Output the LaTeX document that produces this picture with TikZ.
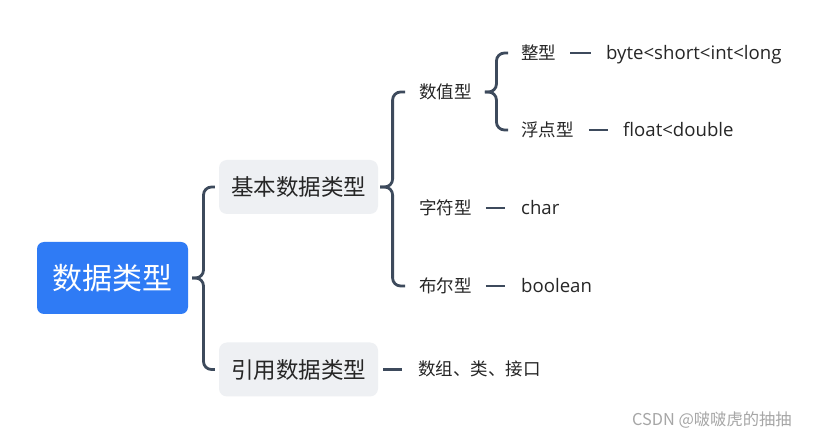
\documentclass[tikz,border=0pt]{standalone}
\usepackage{fontspec}
\setmainfont{Noto Sans CJK SC}
\newfontfamily\latinf{Open Sans}
\usetikzlibrary{calc}
\definecolor{rootblue}{HTML}{2F7BF5}
\definecolor{boxgray}{HTML}{EEF0F3}
\definecolor{linec}{HTML}{3D4A5C}
\definecolor{txt}{HTML}{262626}
\definecolor{wm}{HTML}{A6A6A6}
\tikzset{
 lbl/.style={anchor=west, inner sep=0pt, text=txt, font=\fontsize{17.5}{20}\selectfont, text height=16pt, text depth=3pt},
 vlbl/.style={lbl, font=\latinf\fontsize{18.6}{22}\selectfont, text height=17pt, text depth=3pt},
 rootbox/.style={fill=rootblue, rounded corners=7pt, minimum width=151pt, minimum height=72pt, inner sep=0pt, text=white, font=\fontsize{30}{36}\selectfont},
 midbox/.style={fill=boxgray, rounded corners=8pt, minimum width=159pt, minimum height=54pt, inner sep=0pt, text=txt, font=\fontsize{22.5}{27}\selectfont},
 conn/.style={draw=linec, line width=2.8pt},
 bracel/.style={conn, rounded corners=8pt},
}
\newcommand\mybrace[3]{%
 \draw[bracel] let \p1=#1, \p2=#2, \p4=($#1!0.5!#2$) in (\x2,\y2) -- (\x4,\y2) -- (\x4,\y1) -- (\x1,\y1);
 \draw[bracel] let \p1=#1, \p3=#3, \p4=($#1!0.5!#3$) in (\x1,\y1) -- (\x4,\y1) -- (\x4,\y3) -- (\x3,\y3);
}
\begin{document}
\begin{tikzpicture}[x=1pt,y=-1pt]
\fill[white] (0,0) rectangle (839,438);
\useasboundingbox (0,0) rectangle (839,438);
\node[rootbox] (root) at (112.5,278) {数据类型};
\node[midbox] (basic) at (298.5,187) {基本数据类型};
\node[midbox] (ref) at (298.5,369.5) {引用数据类型};
\node[lbl] (num) at (419,92) {数值型};
\node[lbl] (chr) at (419,208) {字符型};
\node[lbl] (bool) at (419,286) {布尔型};
\node[lbl] (int) at (521,53) {整型};
\node[lbl] (flt) at (521,130) {浮点型};
\node[vlbl] (intv) at (606,53) {byte<short<int<long};
\node[vlbl] (fltv) at (623,130) {float<double};
\node[vlbl] (chrv) at (521,208) {char};
\node[vlbl] (boolv) at (521,286) {boolean};
\node[lbl] (refv) at (418,369.5) {数组、类、接口};
\mybrace{($(root.east)+(4,0)$)}{($(basic.west)+(-4,0)$)}{($(ref.west)+(-4,0)$)}
\mybrace{($(basic.east)+(2,0)$)}{($(num.west)+(-14,0)$)}{($(bool.west)+(-14,0)$)}
\mybrace{($(num.east)+(13,0)$)}{($(int.west)+(-13,0)$)}{($(flt.west)+(-13,0)$)}
\draw[conn, shorten <=14pt, shorten >=15pt] (int) -- (intv);
\draw[conn, shorten <=15pt, shorten >=15pt] (flt) -- (fltv);
\draw[conn, shorten <=14pt, shorten >=16pt] (chr) -- (chrv);
\draw[conn, shorten <=14pt, shorten >=16pt] (bool) -- (boolv);
\draw[conn, shorten <=5pt, shorten >=16pt] (ref) -- (refv);
\node[anchor=west, inner sep=0pt, text=wm, font=\fontsize{16.3}{19}\selectfont, text height=15pt, text depth=3pt] (wmk) at (632,420) {CSDN @啵啵虎的抽抽};
\end{tikzpicture}
\end{document}
